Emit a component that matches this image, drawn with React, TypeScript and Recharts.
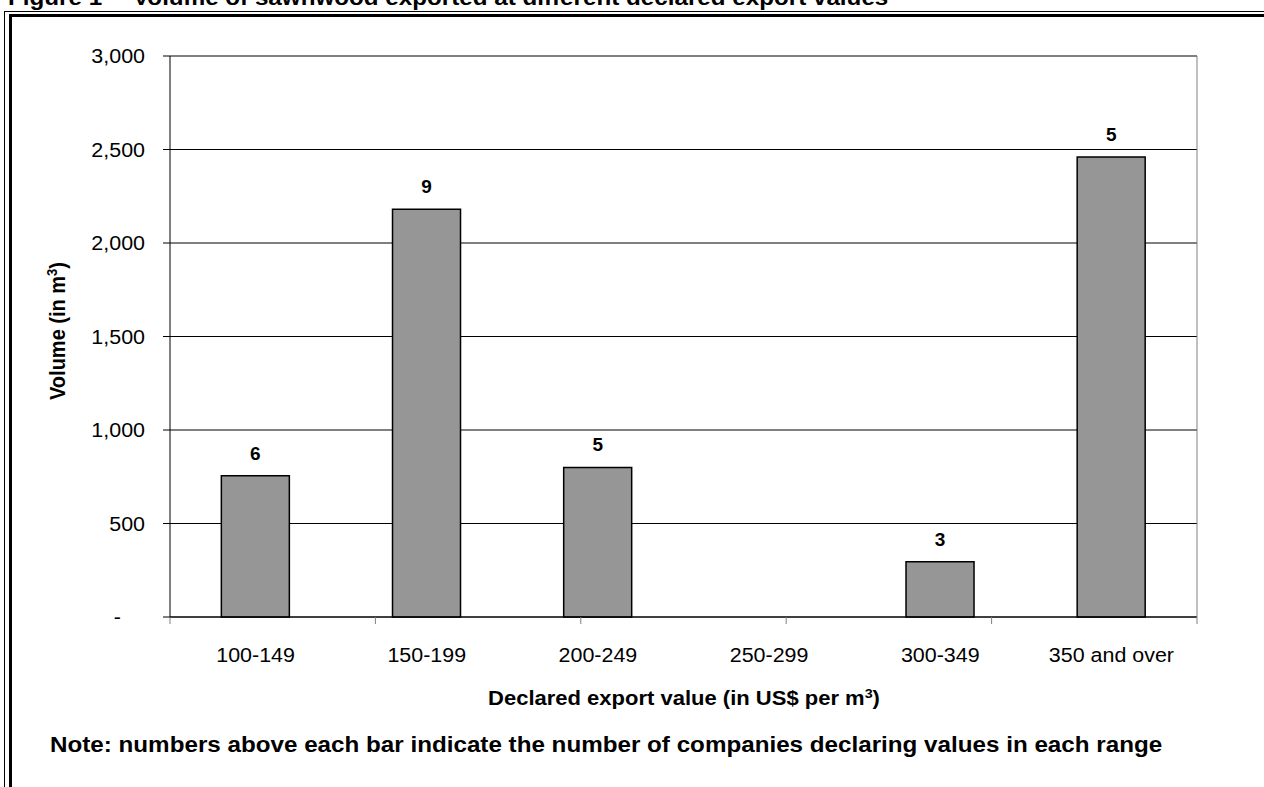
import { BarChart, Bar, XAxis, YAxis, CartesianGrid, ReferenceLine, LabelList } from 'recharts';

const categories = ['100-149', '150-199', '200-249', '250-299', '300-349', '350 and over'];
const volumes = [755, 2180, 800, 0, 295, 2460];
const companyCounts = [6, 9, 5, 0, 3, 5];
const yTicks = [0, 500, 1000, 1500, 2000, 2500, 3000];
const rangeEdges = [0, 1, 2, 3, 4, 5, 6];

const data = categories.map((range, i) => ({
  range,
  volume: volumes[i],
  companies: companyCounts[i],
}));

const FONT = '"Liberation Sans", Arial, Helvetica, sans-serif';
// the original picture is stretched a bit horizontally
const SX = 1.1;

const fmtVolume = (v: number) => (v === 0 ? '-' : v.toLocaleString('en-US'));

const stretch = (x: number, y: number) =>
  `translate(${x} ${y}) scale(${SX} 1) translate(${-x} ${-y})`;

function YTick(props: any) {
  const { x, y, payload } = props;
  const v = payload.value as number;
  // accounting format: dash is followed by two digit-wide blanks
  const ax = v === 0 ? x - 24 : x;
  return (
    <text
      x={ax}
      y={y}
      textAnchor="end"
      dominantBaseline="central"
      fontFamily={FONT}
      fontSize={19.5}
      fill="#000"
      transform={stretch(ax, y)}
    >
      {fmtVolume(v)}
    </text>
  );
}

function XTick(props: any) {
  const { x, y, payload } = props;
  return (
    <text
      x={x}
      y={y}
      textAnchor="middle"
      dominantBaseline="central"
      fontFamily={FONT}
      fontSize={19.5}
      fill="#000"
      transform={stretch(x, y)}
    >
      {payload.value}
    </text>
  );
}

const NoTick = () => null;

const sup = { fontSize: '0.65em', position: 'relative' as const, top: '-0.55em' };

const bold = (size: number) => ({
  position: 'absolute' as const,
  fontSize: size,
  lineHeight: 1,
  fontWeight: 'bold' as const,
  whiteSpace: 'nowrap' as const,
});

export default function App() {
  return (
    <div
      style={{
        position: 'absolute',
        left: 0,
        top: 0,
        width: 1264,
        height: 787,
        overflow: 'hidden',
        background: '#fff',
        fontFamily: FONT,
        color: '#000',
      }}
    >
      <div style={{ ...bold(22), left: 8, top: -13, transform: `scaleX(${SX})`, transformOrigin: 'left center' }}>
        Figure 1
      </div>
      <div style={{ ...bold(22), left: 133, top: -13, transform: `scaleX(${SX})`, transformOrigin: 'left center' }}>
        Volume of sawnwood exported at different declared export values
      </div>

      {/* double frame */}
      <div style={{ position: 'absolute', left: 4, top: 11, width: 1400, height: 900, border: '1px solid #000' }} />
      <div style={{ position: 'absolute', left: 9, top: 14, width: 1400, height: 900, border: '3px solid #000' }} />

      <div style={{ position: 'absolute', left: 0, top: 0 }}>
        <BarChart
          width={1264}
          height={787}
          data={data}
          margin={{ top: 56, right: 66, bottom: 129, left: 70 }}
          barCategoryGap="30%"
        >
          <CartesianGrid vertical={false} stroke="#000" xAxisId="b" />
          <XAxis
            xAxisId="b"
            dataKey="range"
            height={40}
            tickSize={0}
            tickMargin={37}
            tickLine={false}
            axisLine={false}
            interval={0}
            tick={<XTick />}
          />
          <XAxis
            xAxisId="a"
            type="number"
            domain={[0, 6]}
            ticks={rangeEdges}
            height={1}
            tick={NoTick}
            tickSize={7}
            tickLine={{ stroke: '#808080' }}
            axisLine={{ stroke: '#000' }}
            allowDataOverflow
          />
          <YAxis
            domain={[0, 3000]}
            ticks={yTicks}
            interval={0}
            width={100}
            tickSize={7}
            tickMargin={18}
            tickLine={{ stroke: '#000' }}
            axisLine={{ stroke: '#000' }}
            tick={<YTick />}
          />
          <YAxis
            yAxisId="right"
            orientation="right"
            domain={[0, 3000]}
            width={1}
            tick={false}
            tickLine={false}
            axisLine={{ stroke: '#808080' }}
          />
          <ReferenceLine xAxisId="b" y={3000} stroke="#808080" />
          <Bar
            xAxisId="b"
            dataKey="volume"
            fill="#969696"
            stroke="#000"
            strokeWidth={1.5}
            isAnimationActive={false}
          >
            <LabelList
              dataKey="companies"
              position="top"
              offset={16}
              fill="#000"
              fontSize={19}
              fontWeight="bold"
              fontFamily={FONT}
            />
          </Bar>
        </BarChart>
      </div>

      <div style={{ ...bold(20), left: 57, top: 331, transform: `translate(-50%, -50%) rotate(-90deg) scaleY(${SX})` }}>
        Volume (in m<span style={sup}>3</span>)
      </div>
      <div style={{ ...bold(20), left: 684, top: 698, transform: `translate(-50%, -50%) scaleX(${SX})` }}>
        Declared export value (in US$ per m<span style={sup}>3</span>)
      </div>
      <div style={{ ...bold(22), left: 50, top: 745, transform: `translateY(-50%) scaleX(${SX})`, transformOrigin: 'left center' }}>
        Note: numbers above each bar indicate the number of companies declaring values in each range
      </div>
    </div>
  );
}
